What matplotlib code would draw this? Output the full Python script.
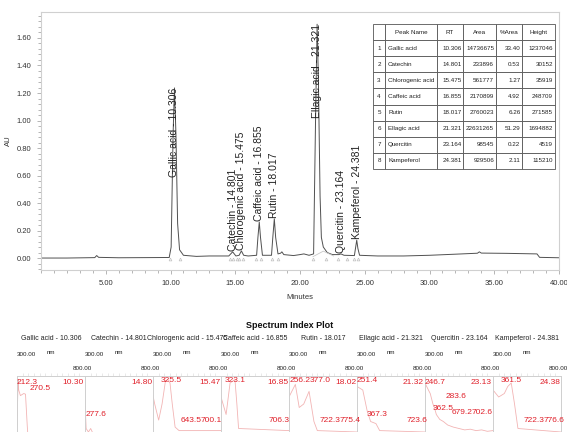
import matplotlib
matplotlib.use("Agg")
import matplotlib.pyplot as plt
from matplotlib.ticker import MultipleLocator, FormatStrFormatter

plt.rcParams['font.family'] = ['Liberation Sans', 'DejaVu Sans']

W, H = 567, 432

# chromatogram trace (minutes, AU)
trace_t = [0.0, 2.0, 4.15, 4.3, 4.45, 6.0, 8.0, 9.9, 10.05, 10.2, 10.306, 10.42, 10.55, 10.7, 11.0,
           12.0, 13.0, 14.5, 14.8, 15.05, 15.3, 15.475, 15.65, 16.0, 16.65, 16.75, 16.855, 16.95,
           17.1, 17.8, 17.9, 18.017, 18.12, 18.3, 18.5, 18.6, 18.75, 19.5, 20.0, 20.3, 20.7, 21.05,
           21.2, 21.321, 21.42, 21.55, 21.65, 21.8, 22.1, 22.5, 23.0, 23.164, 23.4, 24.2, 24.3,
           24.381, 24.47, 24.6, 26.0, 28.0, 30.0, 32.0, 33.7, 33.85, 34.0, 36.0, 38.3, 38.5, 40.0]
trace_au = [0.0, 0.0, 0.003, 0.018, 0.005, 0.002, 0.003, 0.004, 0.08, 0.9, 1.237, 0.9, 0.25, 0.06, 0.02,
            0.012, 0.015, 0.015, 0.045, 0.015, 0.02, 0.052, 0.02, 0.015, 0.02, 0.15, 0.262, 0.15,
            0.02, 0.02, 0.15, 0.285, 0.15, 0.03, 0.035, 0.045, 0.025, 0.018, 0.025, 0.03, 0.02, 0.03,
            1.0, 1.70, 1.3, 0.45, 0.15, 0.08, 0.04, 0.025, 0.025, 0.03, 0.02, 0.018, 0.08,
            0.13, 0.07, 0.02, 0.015, 0.015, 0.02, 0.028, 0.035, 0.045, 0.036, 0.034, 0.03, 0.005, 0.002]

# drawn baseline under the ellagic acid tail
ell_base_t = [21.0, 21.8, 22.6]
ell_base_au = [0.01, 0.05, 0.015]

# integration marks
marks_t = [9.95, 10.75, 14.6, 14.85, 15.1, 15.3, 15.6, 16.6, 17.0, 17.8, 18.3,
           21.0, 22.0, 22.9, 23.6, 24.2, 24.5]

# peak table
peak_names = ["Gallic acid", "Catechin", "Chlorogenic acid", "Caffeic acid", "Rutin",
              "Ellagic acid", "Quercitin", "Kampeferol"]
peak_rt = [10.306, 14.801, 15.475, 16.855, 18.017, 21.321, 23.164, 24.381]
peak_area = [14736675, 233896, 561777, 2170899, 2760023, 22631265, 98545, 929506]
peak_pct = [33.40, 0.53, 1.27, 4.92, 6.26, 51.29, 0.22, 2.11]
peak_height = [1237046, 30152, 35919, 248709, 271585, 1694882, 4519, 115210]
peak_apex = [1.237, 0.045, 0.052, 0.262, 0.285, 1.70, 0.03, 0.13]

# spectrum index plot: wavelength (nm) vs relative absorbance per peak
spec_wl = [
    [200, 210, 215, 230, 260, 275, 290, 300, 800],
    [200, 210, 230, 250, 270, 290, 800],
    [200, 215, 250, 280, 310, 330, 350, 370, 395, 430, 600, 800],
    [200, 245, 280, 323, 340, 355, 800],
    [200, 256, 290, 330, 377, 420, 450, 800],
    [200, 251, 290, 320, 367, 400, 800],
    [200, 230, 246, 270, 283, 300, 330, 362, 400, 450, 500, 550, 600, 650, 700, 750, 800],
    [200, 250, 300, 330, 361, 390, 420, 800],
]
spec_abs = [
    [0.3, 0.95, 0.8, 0.72, 0.75, 0.74, 0.3, 0.05, 0.02],
    [0.65, 0.25, 0.2, 0.25, 0.18, 0.05, 0.02],
    [0.72, 0.6, 0.37, 0.6, 0.93, 0.95, 0.9, 0.6, 0.27, 0.22, 0.22, 0.22],
    [0.7, 0.45, 0.9, 0.95, 0.6, 0.25, 0.22],
    [0.7, 0.88, 0.55, 0.6, 0.78, 0.35, 0.22, 0.2],
    [0.85, 0.8, 0.5, 0.35, 0.32, 0.22, 0.2],
    [0.9, 0.8, 0.75, 0.6, 0.55, 0.45, 0.38, 0.35, 0.3, 0.27, 0.25, 0.23, 0.24, 0.22, 0.23, 0.21, 0.22],
    [0.8, 0.7, 0.75, 0.85, 0.9, 0.6, 0.25, 0.2],
]
spec_peaks = [
    ["212.3", "270.5"], [], ["325.5"], ["323.1"], ["256.2", "377.0"], ["251.4"], ["246.7"], ["361.5"],
]
spec_rt = ["10.30", "14.80", "15.47", "16.85", "18.02", "21.32", "23.13", "24.38"]
spec_low = [
    [], ["277.6"], ["643.5", "700.1"], ["706.3"], ["722.3", "775.4"], ["367.3", "723.6"],
    ["283.6", "362.5", "679.2", "702.6"], ["722.3", "776.6"],
]
# label positions in pixels (x offset from panel left, y in figure)
spec_peak_pos = [
    [(0, 382), (13, 389)], [], [(8, 381)], [(4, 381)], [(1, 381), (21, 381)], [(0, 381)],
    [(0, 382)], [(8, 381)],
]
spec_low_pos = [
    [], [(1, 415)], [(28, 420), (48, 420)], [(48, 420)], [(31, 420), (51, 420)],
    [(10, 414), (50, 420)], [(21, 396), (8, 409), (27, 413), (47, 413)], [(31, 420), (51, 420)],
]


def fx(px):
    return px / W


def fy(py):
    return 1 - py / H


fig = plt.figure(figsize=(W / 100, H / 100), dpi=100)

# main chromatogram
ax = fig.add_axes([fx(41), fy(270), 518 / W, 258 / H])
ax.plot(trace_t, trace_au, color="#505050", lw=0.7)
ax.plot(ell_base_t, ell_base_au, color="#c8c8c8", lw=0.6)
ax.plot(marks_t, [-0.008] * len(marks_t), ls="none", marker="^", ms=2,
        mfc="none", mec="#c0c0c0", mew=0.5)
ax.set_xlim(0, 40)
ax.set_ylim(-0.087, 1.789)
ax.xaxis.set_major_locator(MultipleLocator(5))
ax.xaxis.set_minor_locator(MultipleLocator(1))
ax.yaxis.set_major_locator(MultipleLocator(0.2))
ax.yaxis.set_minor_locator(MultipleLocator(0.04))
ax.xaxis.set_major_formatter(FormatStrFormatter("%.2f"))
ax.yaxis.set_major_formatter(FormatStrFormatter("%.2f"))
ax.set_xticks([5, 10, 15, 20, 25, 30, 35, 40])
ax.tick_params(which="both", colors="#999999", labelcolor="#333333", labelsize=5.5, width=0.5)
ax.tick_params(which="major", length=3, pad=4)
ax.tick_params(which="minor", length=2)
for sp in ax.spines.values():
    sp.set_color("#d0d0d0")
    sp.set_linewidth(0.8)
ax.set_xlabel("Minutes", fontsize=5.5, color="#333333", labelpad=5)
ax.set_ylabel("AU", fontsize=5.5, color="#333333", labelpad=3)

for name, rt, top in zip(peak_names, peak_rt, peak_apex):
    big = top > 1.0
    ax.text(rt, top + (0 if big else 0.005), f"{name} - {rt:.3f}", rotation=90,
            ha="center", va="top" if big else "bottom", fontsize=7.5, color="#222222")

# peak table
cells = []
for i in range(len(peak_names)):
    cells.append([str(i + 1), peak_names[i], f"{peak_rt[i]:.3f}", str(peak_area[i]),
                  f"{peak_pct[i]:.2f}", str(peak_height[i])])
col_w = [12, 52, 26, 33, 26, 33]
tab = ax.table(cellText=cells, colLabels=["", "Peak Name", "RT", "Area", "%Area", "Height"],
               colWidths=[c / sum(col_w) for c in col_w],
               bbox=[(373 - 41) / 518, (270 - 169) / 258, 182 / 518, 145 / 258])
tab.auto_set_font_size(False)
for (r, c), cell in tab.get_celld().items():
    cell.set_linewidth(0.6)
    cell.set_edgecolor("#555555")
    cell.PAD = 0.06
    txt = cell.get_text()
    txt.set_fontsize(4.5)
    txt.set_color("#222222")
    if r == 0 or c == 0:
        cell.set_text_props(ha="center")
    elif c == 1:
        cell.set_text_props(ha="left")
    else:
        cell.set_text_props(ha="right")

# spectrum index plot
fig.text(fx(290), fy(326), "Spectrum Index Plot", ha="center", va="center",
         fontsize=6.5, fontweight="bold", color="#111111")
panel_w = 68
for i in range(8):
    left = 17 + i * panel_w
    fig.text(fx(left + panel_w / 2), fy(338), f"{peak_names[i]} - {peak_rt[i]:.3f}",
             ha="center", va="center", fontsize=5, color="#222222")
    fig.text(fx(left), fy(355), "300.00", ha="left", va="center", fontsize=4.5, color="#222222")
    fig.text(fx(left + 30), fy(352), "nm", ha="left", va="center", fontsize=4.5, color="#222222")
    fig.text(fx(left + panel_w - 3), fy(368), "800.00", ha="center", va="center",
             fontsize=4.5, color="#222222")
    sax = fig.add_axes([fx(left), fy(446), panel_w / W, 70 / H])
    sax.plot(spec_wl[i], spec_abs[i], color="#f2b4b4", lw=0.6)
    sax.set_xlim(200, 800)
    sax.set_ylim(0, 1)
    sax.set_xticks(range(250, 800, 50))
    sax.set_yticks([])
    sax.tick_params(axis="x", bottom=False, top=True, labelbottom=False, length=2,
                    width=0.4, color="#d8d8d8")
    for sp in sax.spines.values():
        sp.set_color("#cfcfcf")
        sp.set_linewidth(0.7)
    red = "#e0202a"
    for lab, (dx, py) in zip(spec_peaks[i], spec_peak_pos[i]):
        fig.text(fx(left + dx), fy(py), lab, ha="left", va="center", fontsize=6, color=red)
    fig.text(fx(left + panel_w - 1), fy(382), spec_rt[i], ha="right", va="center",
             fontsize=6, color=red)
    for lab, (dx, py) in zip(spec_low[i], spec_low_pos[i]):
        fig.text(fx(left + dx), fy(py), lab, ha="left", va="center", fontsize=6, color=red)

fig.savefig("out.png", dpi=100)
